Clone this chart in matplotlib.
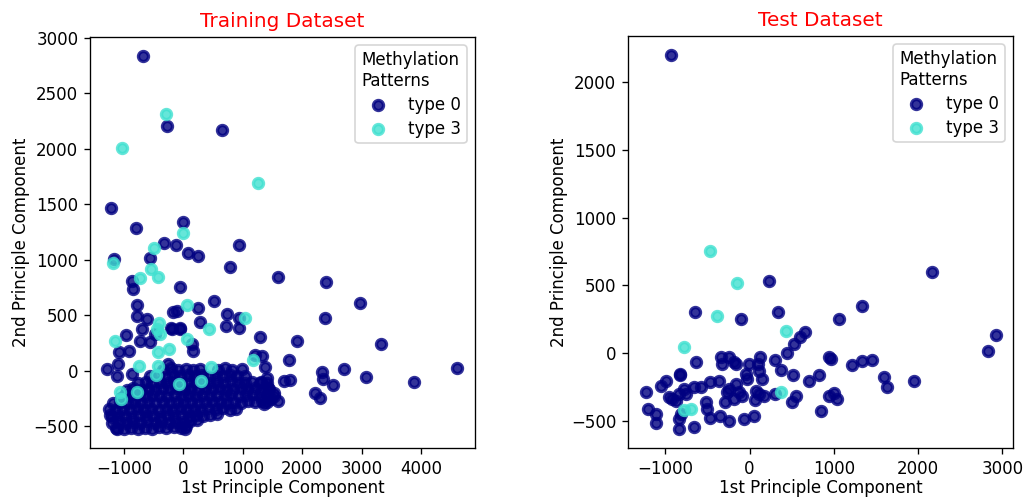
import matplotlib
matplotlib.use("Agg")
import matplotlib.pyplot as plt

###############################################################################
#Data (PCA scores)
###############################################################################
#Training set, methylation type 0
train_type0 = [
    (-682, 2839), (-274, 2203), (655, 2173), (-1215, 1465), (-795, 1285), (0, 1345),
    (-336, 1156), (-123, 1132), (84, 1066), (252, 1036), (936, 1135), (-1176, 1006),
    (-560, 1021), (785, 937), (1597, 847), (2398, 799), (-868, 811), (-847, 736),
    (-55, 753), (2970, 616), (521, 631), (-784, 592), (-112, 541), (-168, 532),
    (252, 565), (-784, 496), (729, 511), (941, 481), (2382, 475), (-615, 466),
    (281, 445), (718, 400), (-699, 376), (-195, 376), (-55, 385), (941, 385),
    (-963, 325), (-728, 271), (1289, 301), (1906, 271), (3334, 241), (-560, 256),
    (141, 241), (-924, 181), (-1092, 166), (168, 181), (1782, 97), (1205, 145),
    (-1280, 16), (2706, 16), (3082, -59), (3877, -98), (2326, -14), (2354, -74),
    (2521, -125), (2213, -203), (2297, -245), (1692, -89), (1795, -83), (1402, -105),
    (1374, 31), (981, 16), (1597, -269), (4617, 28), (-1097, 61), (-1126, -44),
    (-874, -29), (-257, 64), (-1262, -344), (-1210, -419), (-1126, -524), (23, -524),
    (-202, 385), (-62, 376), (-478, 335), (1318, 136), (1300, -100), (1420, -150),
    (1480, -250), (1350, -300), (1530, -200), (1400, -60), (1402, -284),
    #dense cluster
    (-1130, -515), (-1005, -522), (-890, -510), (-765, -526), (-650, -512), (-528, -520),
    (-410, -508), (-288, -518), (-165, -505), (-48, -512), (35, -500),
    (-1205, -470), (-1085, -458), (-968, -472), (-850, -462), (-728, -470), (-612, -455),
    (-488, -466), (-372, -452), (-248, -470), (-130, -458), (-12, -462), (108, -450),
    (225, -440),
    (-1232, -398), (-1108, -410), (-992, -402), (-868, -415), (-748, -400), (-632, -408),
    (-508, -396), (-392, -412), (-268, -400), (-152, -405), (-28, -395), (92, -410),
    (210, -398), (328, -402), (452, -395), (565, -388),
    (-1140, -350), (-1018, -340), (-902, -352), (-780, -338), (-662, -348), (-540, -342),
    (-418, -355), (-300, -340), (-182, -348), (-58, -336), (62, -350), (182, -340),
    (302, -352), (420, -338), (542, -345), (660, -335), (778, -348), (880, -340),
    (-1188, -290), (-1072, -280), (-948, -292), (-832, -278), (-708, -288), (-590, -282),
    (-472, -290), (-348, -278), (-232, -286), (-108, -280), (12, -292), (128, -276),
    (252, -288), (368, -280), (492, -284), (612, -276), (728, -290), (852, -280),
    (968, -286), (1088, -272), (1212, -284), (1330, -270),
    (-1060, -240), (-992, -218), (-868, -230), (-752, -220), (-628, -226), (-512, -215),
    (-388, -230), (-272, -222), (-148, -218), (-32, -228), (88, -215), (212, -226),
    (328, -220), (452, -230), (568, -218), (692, -225), (808, -212), (932, -228),
    (1048, -220), (1172, -210), (1288, -225), (1412, -215), (1528, -230),
    (-958, -170), (-842, -158), (-718, -168), (-602, -160), (-478, -172), (-362, -158),
    (-238, -166), (-122, -155), (2, -168), (118, -160), (242, -170), (358, -155),
    (482, -165), (598, -158), (722, -170), (838, -160), (962, -150), (1078, -165),
    (1202, -158), (1318, -170), (1442, -160),
    (-762, -110), (-638, -100), (-522, -112), (-398, -98), (-282, -108), (-158, -95),
    (-42, -110), (82, -100), (198, -112), (322, -96), (438, -108), (562, -98),
    (678, -110), (802, -95), (918, -105), (1042, -112), (1158, -98), (1282, -108),
    (-558, -50), (-432, -40), (-302, -52), (-178, -38), (-52, -48), (72, -35),
    (188, -50), (312, -40), (432, -55), (552, -42), (668, -50), (792, -38),
    (908, -48), (1032, -45),
    (-352, 10), (-218, 22), (-92, 8), (42, 18), (158, 5), (282, 20),
    (582, 12), (702, 25), (822, 8),
]

#Training set, methylation type 3
train_type3 = [
    (-286, 2317), (-1035, 2011), (1250, 1693), (0, 1238), (-492, 1105), (-1193, 976),
    (-543, 916), (-431, 850), (-739, 835), (56, 595), (1037, 481), (-420, 436),
    (437, 376), (-447, 376), (-392, 331), (-1160, 265), (56, 286), (-252, 196),
    (-431, 166), (1176, 97), (-756, 46), (-431, 40), (-459, -35), (460, 31),
    (292, -95), (-72, -119), (-784, -194), (-1075, -194), (-1053, -254),
]

#Test set, methylation type 0
test_type0 = [
    (-937, 2204), (2166, 596), (229, 530), (-652, 305), (336, 307), (-107, 251),
    (1059, 251), (1336, 350), (2831, 17), (2918, 133), (656, 152), (604, 115),
    (525, 67), (446, -3), (308, -52), (368, -126), (517, -160), (703, -210),
    (822, -163), (941, -32), (961, -44), (1217, -89), (1336, -57), (1454, -50),
    (1593, -180), (1632, -254), (1949, -210), (119, -27), (-8, -81), (102, -81),
    (110, -131), (150, -192), (71, -279), (110, -303), (63, -345), (170, -315),
    (-28, -192), (-47, -155), (-166, -81), (-344, -32), (-246, -32), (-325, -81),
    (-186, -69), (-633, -69), (-827, -163), (-996, -204), (-1056, -241), (-1234, -284),
    (-1203, -414), (-1115, -447), (-1115, -513), (-957, -328), (-918, -340), (-878, -352),
    (-839, -303), (-779, -266), (-759, -303), (-819, -155), (-661, -254), (-581, -254),
    (-463, -217), (-364, -205), (-246, -266), (-166, -229), (-127, -291), (-88, -315),
    (-186, -340), (-266, -291), (-285, -365), (-246, -501), (-68, -489), (51, -465),
    (-463, -477), (-356, -465), (-515, -365), (-503, -414), (-839, -489), (-839, -563),
    (-661, -545), (-810, -452), (308, -303), (505, -365), (553, -315), (842, -427),
    (941, -315), (1000, -298), (1039, -340),
]

#Test set, methylation type 3
test_type3 = [
    (-463, 757), (-147, 515), (-384, 276), (427, 165), (-779, 47), (368, -284),
    (-779, -422), (-700, -414),
]

target_names = ["type 0", "type 3"]
colors = ["navy", "turquoise"]

###############################################################################
#Plot
###############################################################################
DPI = 120
fig = plt.figure(figsize=(1026/DPI, 499/DPI), dpi=DPI)
plt.rcParams.update({'font.size': 10})

ax1 = fig.add_axes([90/1026, 51/499, 385/1026, 411/499])
ax2 = fig.add_axes([628/1026, 51/499, 385/1026, 412/499])

def draw(ax, groups, title):
    for pts, col, name in zip(groups, colors, target_names):
        xs = [p[0] for p in pts]
        ys = [p[1] for p in pts]
        ax.scatter(xs, ys, color=col, alpha=.8, lw=2, label=name)
    leg = ax.legend(loc="upper right", shadow=False, scatterpoints=1,
                    title="Methylation\nPatterns", alignment="left",
                    labelspacing=0.35, borderpad=0.35)
    leg.get_title().set_multialignment("left")
    ax.set_title(title, color="red", fontsize=12)
    ax.set_xlabel("1st Principle Component", labelpad=1)
    ax.set_ylabel("2nd Principle Component", labelpad=2)

draw(ax1, [train_type0, train_type3], "Training Dataset")
draw(ax2, [test_type0, test_type3], "Test Dataset")

ax1.set_xticks([-1000, 0, 1000, 2000, 3000, 4000])
ax1.set_yticks([-500, 0, 500, 1000, 1500, 2000, 2500, 3000])
ax2.set_xticks([-1000, 0, 1000, 2000, 3000])
ax2.set_yticks([-500, 0, 500, 1000, 1500, 2000])

fig.savefig("out.png", dpi=DPI)
